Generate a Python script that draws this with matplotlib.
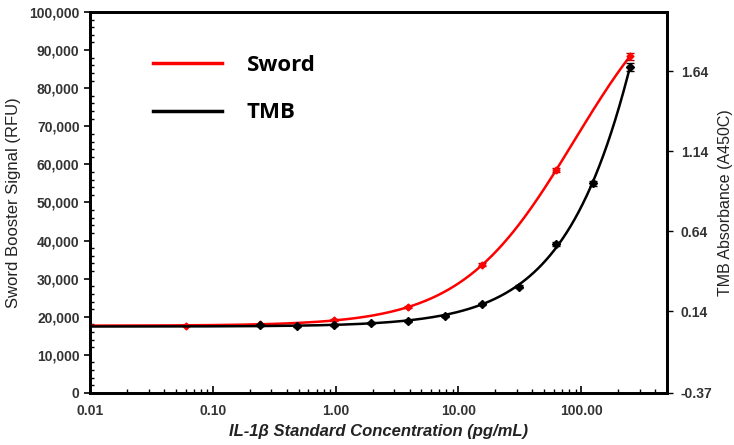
import numpy as np
import matplotlib
matplotlib.use("Agg")
import matplotlib.pyplot as plt
from matplotlib.ticker import FixedLocator, FuncFormatter, MultipleLocator, LogLocator, NullFormatter
from matplotlib.lines import Line2D

# ---- data ----
sword_conc = [0.061, 0.244, 0.977, 3.906, 15.625, 62.5, 250.0]
sword_rfu = [17700, 18000, 19200, 22500, 33600, 58500, 88400]
sword_err = [150, 150, 250, 300, 400, 600, 900]

tmb_conc = [0.244, 0.488, 0.977, 1.953, 3.906, 7.8125, 15.625, 31.25, 62.5, 125.0, 250.0]
tmb_abs = [0.055, 0.049, 0.055, 0.066, 0.082, 0.113, 0.186, 0.294, 0.559, 0.941, 1.669]
tmb_err = [0.005, 0.005, 0.005, 0.005, 0.006, 0.006, 0.008, 0.010, 0.012, 0.015, 0.025]

curve_start_x = 0.01

x_ticks = [0.01, 0.1, 1, 10, 100]
left_ticks = list(range(0, 100001, 10000))
right_ticks = [-0.37, 0.14, 0.64, 1.14, 1.64]


def f4pl(p, x):
    A, B, logC, D = p
    return D + (A - D) / (1 + (x / 10**logC) ** B)


def fit4pl(x, y, p0, iters=300):
    x = np.asarray(x, float); y = np.asarray(y, float)
    p = np.asarray(p0, float)
    lam = 1e-2
    scale = np.max(np.abs(y))
    def res(pp):
        return (f4pl(pp, x) - y) / scale
    r = res(p); cost = r @ r
    for _ in range(iters):
        J = np.empty((len(x), 4))
        for j in range(4):
            dp = np.zeros(4); step = 1e-6 * max(1.0, abs(p[j])); dp[j] = step
            J[:, j] = (res(p + dp) - r) / step
        Hm = J.T @ J; g = J.T @ r
        while True:
            try:
                delta = -np.linalg.solve(Hm + lam * np.diag(np.diag(Hm) + 1e-12), g)
            except np.linalg.LinAlgError:
                lam *= 10; continue
            pn = p + delta
            rn = res(pn); cn = rn @ rn
            if np.isfinite(cn) and cn < cost:
                p, r, cost = pn, rn, cn; lam = max(lam / 3, 1e-9)
                break
            lam *= 5
            if lam > 1e12:
                return p
    return p


plt.rcParams['font.family'] = ['Liberation Sans', 'DejaVu Sans']
fig = plt.figure(figsize=(7.34, 4.45), dpi=100)
ax = fig.add_axes([0.1226, 0.1169, 0.7861, 0.8562])
ax2 = ax.twinx()

ax.set_xscale('log')
ax.set_xlim(0.01, 500)
ax.set_ylim(0, 100000)
ax2.set_ylim(-0.37, 2.01)

# fitted curves
ps = fit4pl(sword_conc, sword_rfu, [17600, 1.0, 2.5, 150000])
xs = np.logspace(np.log10(curve_start_x), np.log10(sword_conc[-1]), 400)
ax.plot(xs, f4pl(ps, xs), color='#ff0000', lw=1.8, zorder=3)
ax.errorbar(sword_conc, sword_rfu, yerr=sword_err, fmt='D', ms=3.5,
            color='#ff0000', ecolor='#b00000', elinewidth=1, capsize=3, zorder=4)

pt = fit4pl(tmb_conc, tmb_abs, [0.05, 1.5, 2.7, 5.0])
xt = np.logspace(np.log10(curve_start_x), np.log10(tmb_conc[-1]), 400)
ax2.plot(xt, f4pl(pt, xt), color='black', lw=1.8, zorder=3)
ax2.errorbar(tmb_conc, tmb_abs, yerr=tmb_err, fmt='D', ms=4.5,
             color='black', elinewidth=1, capsize=3, zorder=4)

# axes styling
for a in (ax, ax2):
    for s in a.spines.values():
        s.set_linewidth(2)
        s.set_color('black')

lab_col = '#333333'
ax.xaxis.set_major_locator(FixedLocator(x_ticks))
ax.xaxis.set_major_formatter(FuncFormatter(lambda v, p: f"{v:.2f}"))
ax.xaxis.set_minor_locator(LogLocator(base=10, subs=np.arange(2, 10)))
ax.xaxis.set_minor_formatter(NullFormatter())
ax.tick_params(axis='x', which='major', direction='in', length=5, width=1.2,
               labelsize=10, labelcolor=lab_col, pad=8)
ax.tick_params(axis='x', which='minor', direction='in', length=3, width=1)

ax.yaxis.set_major_locator(FixedLocator(left_ticks))
ax.yaxis.set_major_formatter(FuncFormatter(lambda v, p: f"{int(v):,}"))
ax.yaxis.set_minor_locator(MultipleLocator(2000))
ax.tick_params(axis='y', which='major', direction='out', length=4, width=1.2,
               labelsize=10, labelcolor=lab_col)
ax.tick_params(axis='y', which='minor', direction='in', length=3, width=1)

ax2.yaxis.set_major_locator(FixedLocator(right_ticks))
ax2.yaxis.set_major_formatter(FuncFormatter(lambda v, p: f"{v:.2f}"))
ax2.tick_params(axis='y', which='major', direction='out', length=4, width=1,
                labelsize=10, labelcolor=lab_col, pad=6)

for lab in ax.get_xticklabels() + ax.get_yticklabels() + ax2.get_yticklabels():
    lab.set_fontweight('bold')

ax.set_ylabel('Sword Booster Signal (RFU)', fontsize=12, color='#222222', labelpad=6)
ax2.set_ylabel('TMB Absorbance (A450C)', fontsize=11.5, color='#222222', labelpad=4)
ax.set_xlabel('IL-1β Standard Concentration (pg/mL)', fontsize=12,
              fontweight='bold', fontstyle='italic', color='#222222', labelpad=4)

# legend
handles = [Line2D([], [], color='#ff0000', lw=2.5), Line2D([], [], color='black', lw=2.5)]
ax.legend(handles, ['Sword', 'TMB'], loc='upper left', bbox_to_anchor=(0.075, 0.94),
          frameon=False, handlelength=3.1, handletextpad=1.1, labelspacing=1.2,
          prop={'family': ['Open Sans', 'DejaVu Sans'], 'weight': 'bold', 'size': 16})

fig.savefig('out.png', dpi=100)
